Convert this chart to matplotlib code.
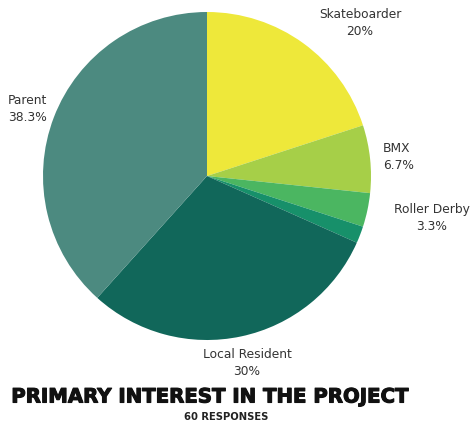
import matplotlib
matplotlib.use("Agg")
import matplotlib.pyplot as plt
import matplotlib.patheffects as pe

# responses per group (60 total), clockwise from 12 o'clock
groups = ["Skateboarder", "BMX", "Roller Derby", "Other", "Local Resident", "Parent"]
counts = [12, 4, 2, 1, 18, 23]
colors = ["#EEE83A", "#A6CF48", "#4BB661", "#17906A", "#11675A", "#4C8A80"]
total = sum(counts)

fig = plt.figure(figsize=(4.74, 4.27), dpi=100)
W, H = 474, 427
cx, cy, r = 207, 177, 164
ax = fig.add_axes([(cx - r) / W, (H - cy - r) / H, 2 * r / W, 2 * r / H])
ax.pie(counts, colors=colors, startangle=90, counterclock=False,
       wedgeprops=dict(linewidth=0), frame=False)
ax.set_xlim(-1, 1)
ax.set_ylim(-1, 1)
ax.set_aspect("equal")
ax.axis("off")

# label placement (pixel coords of the block centre) and alignment
label_pos = {
    "Skateboarder": (360, 23, "center"),
    "BMX": (383, 157, "left"),
    "Roller Derby": (432, 218, "center"),
    "Local Resident": (247, 363, "center"),
    "Parent": (8, 109, "left"),
}
for g, c in zip(groups, counts):
    if g not in label_pos:
        continue
    x, y, ha = label_pos[g]
    pct = f"{100 * c / total:.1f}".rstrip("0").rstrip(".") + "%"
    fig.text(x / W, 1 - y / H, g + "\n" + pct, ha=ha, va="center",
             fontsize=8.8, color="#333333", linespacing=1.45)

title = fig.text(210 / W, 1 - 398 / H, "PRIMARY INTEREST IN THE PROJECT", ha="center",
                 va="center", fontsize=14.2, fontweight="heavy", color="#111111")
title.set_path_effects([pe.withStroke(linewidth=0.8, foreground="#111111")])
fig.text(226 / W, 1 - 417 / H, "60 RESPONSES", ha="center", va="center",
         fontsize=7.2, fontweight="bold", color="#222222")

fig.savefig("out.png", dpi=100)
